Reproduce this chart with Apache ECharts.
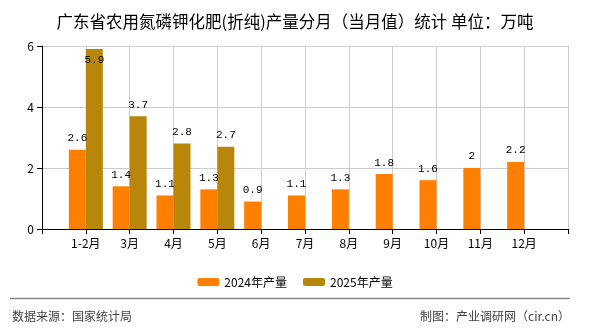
<!DOCTYPE html>
<html><head><meta charset="utf-8">
<script src="https://cdn.jsdelivr.net/npm/echarts@6/dist/echarts.min.js"></script>
<style>html,body{margin:0;padding:0;background:#fff}#c{width:590px;height:330px}</style>
</head><body><div id="c"></div>
<script>
var categories = ['1-2月','3月','4月','5月','6月','7月','8月','9月','10月','11月','12月'];
var values2024 = [2.6,1.4,1.1,1.3,0.9,1.1,1.3,1.8,1.6,2,2.2];
var values2025 = [5.9,3.7,2.8,2.7];
var yTicks = [0,2,4,6];

var font = '"Noto Sans CJK SC", "Noto Sans", sans-serif';
var yMax = yTicks[yTicks.length-1];
// padded with an empty slot at each end, as in the reference axis
var axisData = [''].concat(categories, ['']);
function pad(vals){
  var out = [null];
  for (var i = 0; i < categories.length; i++) {
    var v = i < vals.length ? vals[i] : null;
    if (v !== null && v > yMax - 0.5) out.push({value:v, label:{position:'insideTop'}});
    else out.push(v);
  }
  out.push(null);
  return out;
}
var d2024 = pad(values2024);
var d2025 = pad(values2025);
var labelStyle = {show:true,position:'top',distance:6,color:'#000',fontSize:11,fontFamily:'"Liberation Mono", "DejaVu Sans Mono", monospace'};

var chart = echarts.init(document.getElementById('c'));
chart.setOption({
  animation:false,
  title:{text:'广东省农用氮磷钾化肥(折纯)产量分月（当月值）统计 单位：万吨',left:'center',top:8,
    textStyle:{fontSize:16.5,fontWeight:'normal',color:'#000',fontFamily:font}},
  grid:{left:42,right:22,top:46,bottom:101},
  legend:{top:271,left:'center',itemWidth:22,itemHeight:8,itemGap:16,
    textStyle:{fontSize:12,color:'#000',fontFamily:font},
    data:['2024年产量','2025年产量']},
  xAxis:{type:'category',data:axisData,boundaryGap:false,
    axisLine:{lineStyle:{color:'#000'}},
    axisTick:{show:true,lineStyle:{color:'#000'}},
    axisLabel:{color:'#000',fontSize:12,fontFamily:font,interval:0},
    splitLine:{show:true,lineStyle:{color:'#ccc'}}},
  yAxis:{type:'value',min:yTicks[0],max:yMax,interval:2,
    axisLine:{show:true,lineStyle:{color:'#000'}},
    axisTick:{show:true,lineStyle:{color:'#000'}},
    axisLabel:{color:'#000',fontSize:12,fontFamily:font},
    splitLine:{lineStyle:{color:'#ccc'}}},
  series:[
    {name:'2024年产量',type:'bar',data:d2024,barWidth:17,barGap:'0%',
      itemStyle:{color:'#FF7F00'},label:labelStyle},
    {name:'2025年产量',type:'bar',data:d2025,barWidth:17,barGap:'0%',
      itemStyle:{color:'#B8860B'},label:labelStyle}
  ],
  graphic:[
    {type:'line',shape:{x1:10,y1:298.5,x2:570,y2:298.5},style:{stroke:'#888',lineWidth:1.5}},
    {type:'text',left:12,top:310,style:{text:'数据来源：国家统计局',fill:'#444',fontSize:12,fontFamily:font}},
    {type:'text',right:20,top:310,style:{text:'制图：产业调研网（cir.cn）',fill:'#444',fontSize:12,fontFamily:font}}
  ]
});
</script></body></html>
